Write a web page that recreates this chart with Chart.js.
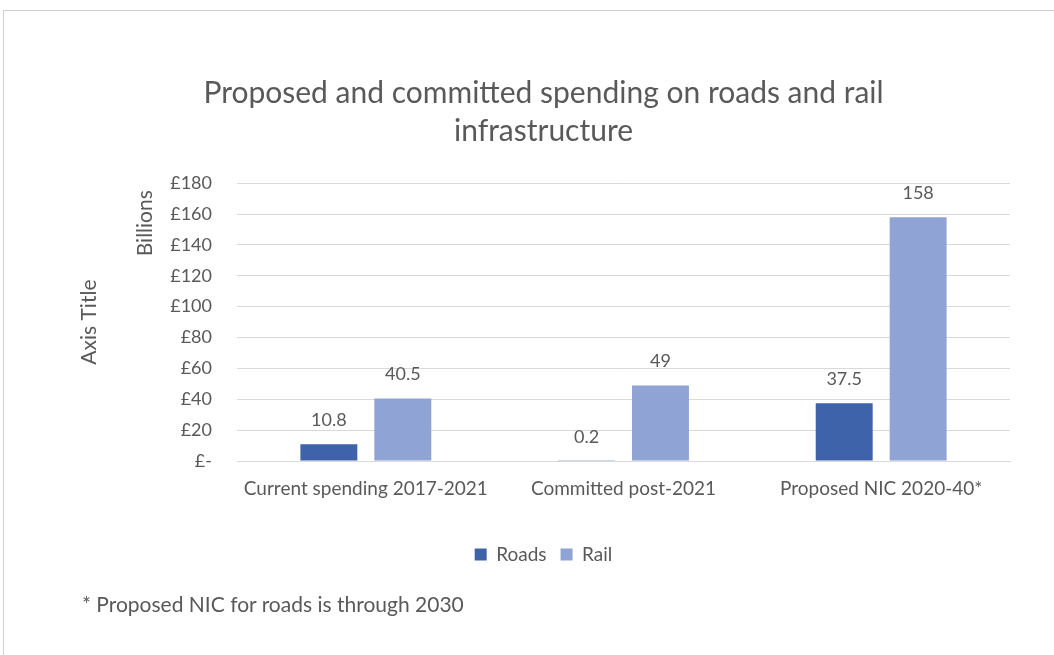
<!DOCTYPE html>
<html>
<head>
<meta charset="utf-8">
<script src="https://cdn.jsdelivr.net/npm/chart.js@4"></script>
<style>
  html, body { margin: 0; padding: 0; background: #fff; overflow: hidden; }
  body { width: 1054px; height: 655px; position: relative; font-family: Lato, sans-serif; }
  #frame { position: absolute; left: 3px; top: 10px; width: 1200px; height: 800px; border: 1px solid #d0d0d0; }
  #chart { position: absolute; left: 4px; top: 11px; }
  #note { position: absolute; left: 82px; top: 591px; font-size: 21px; color: #595959; white-space: nowrap; }
</style>
</head>
<body>
<div id="frame"></div>
<canvas id="chart" width="1074" height="644"></canvas>
<div id="note">* Proposed NIC for roads is through 2030</div>
<script>
// Spending in £ billions
const categories = ['Current spending 2017-2021', 'Committed post-2021', 'Proposed NIC 2020-40*'];
const roads = [10.8, 0.2, 37.5];
const rail = [40.5, 49, 158];
const yTicks = [0, 20, 40, 60, 80, 100, 120, 140, 160, 180];

const textColor = '#595959';
const gridColor = '#d9d9d9';
const fontFamily = 'Lato, sans-serif';

// Value labels above each bar
const valueLabels = {
    id: 'valueLabels',
    afterDatasetsDraw(chart) {
        const ctx = chart.ctx;
        ctx.save();
        ctx.fillStyle = textColor;
        ctx.font = '18px ' + fontFamily;
        ctx.textAlign = 'center';
        ctx.textBaseline = 'middle';
        chart.data.datasets.forEach((ds, i) => {
            chart.getDatasetMeta(i).data.forEach((bar, j) => {
                ctx.fillText(String(ds.data[j]), bar.x, bar.y - 24);
            });
        });
        ctx.restore();
    }
};

// Display-units label beside the value axis
const unitsLabel = {
    id: 'unitsLabel',
    afterDraw(chart) {
        const ctx = chart.ctx;
        ctx.save();
        ctx.translate(chart.chartArea.left - 92, chart.chartArea.top + 7);
        ctx.rotate(-Math.PI / 2);
        ctx.fillStyle = textColor;
        ctx.font = '21px ' + fontFamily;
        ctx.textAlign = 'right';
        ctx.textBaseline = 'middle';
        ctx.fillText('Billions', 0, 0);
        ctx.restore();
    }
};

new Chart(document.getElementById('chart'), {
    type: 'bar',
    data: {
        labels: categories,
        datasets: [{
            label: 'Roads',
            data: roads,
            backgroundColor: '#3e63ab',
            categoryPercentage: 0.574,
            barPercentage: 0.77
        }, {
            label: 'Rail',
            data: rail,
            backgroundColor: '#8fa3d4',
            categoryPercentage: 0.574,
            barPercentage: 0.77
        }]
    },
    options: {
        responsive: false,
        animation: false,
        layout: {
            padding: { left: 73, right: 68, top: 0, bottom: 81 }
        },
        plugins: {
            title: {
                display: true,
                text: ['Proposed and committed spending on roads and rail', 'infrastructure'],
                color: textColor,
                font: { family: fontFamily, size: 30, weight: 'normal', lineHeight: 1.27 },
                padding: { top: 63, bottom: 33 }
            },
            legend: {
                position: 'bottom',
                labels: {
                    color: textColor,
                    font: { family: fontFamily, size: 19 },
                    boxWidth: 12,
                    boxHeight: 12,
                    padding: 14
                }
            },
            tooltip: { enabled: false }
        },
        scales: {
            x: {
                grid: { display: false },
                border: { color: gridColor },
                ticks: {
                    color: textColor,
                    font: { family: fontFamily, size: 19 },
                    padding: 8,
                    maxRotation: 0
                },
                afterFit: s => { s.height = 70; }
            },
            y: {
                min: 0,
                max: 180,
                afterBuildTicks: s => { s.ticks = yTicks.map(v => ({ value: v })); },
                grid: { color: gridColor, drawTicks: false },
                border: { display: false },
                ticks: {
                    color: textColor,
                    font: { family: fontFamily, size: 18 },
                    padding: 25,
                    callback: v => v === 0 ? '£-' : '£' + v
                },
                title: {
                    display: true,
                    text: 'Axis Title',
                    color: textColor,
                    font: { family: fontFamily, size: 21 },
                    padding: 0
                },
                afterFit: s => { s.width = 160; }
            }
        }
    },
    plugins: [valueLabels, unitsLabel]
});
</script>
</body>
</html>
